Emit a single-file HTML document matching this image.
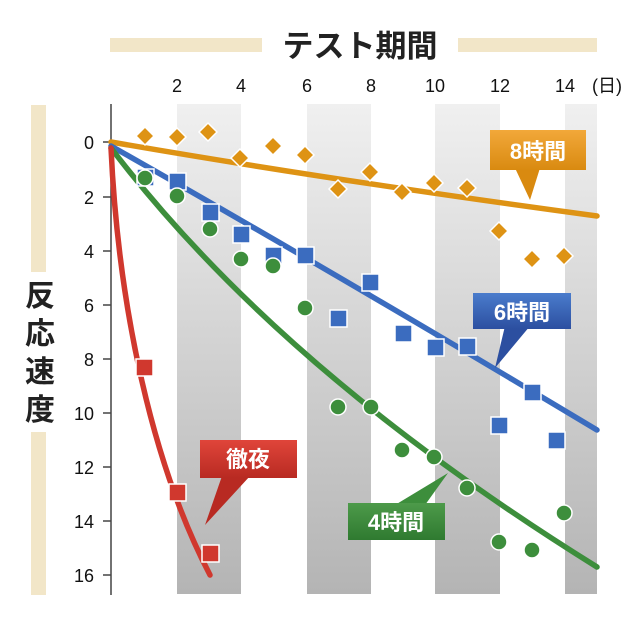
<!DOCTYPE html><html><head><meta charset="utf-8"><style>body{margin:0;background:#fff}svg{display:block}text{font-family:"Liberation Sans","Noto Sans CJK JP",sans-serif}</style></head><body>
<svg width="640" height="625" viewBox="0 0 640 625">
<defs><linearGradient id="g" x1="0" y1="0" x2="0" y2="1"><stop offset="0" stop-color="#f0f0f0"/><stop offset="1" stop-color="#b4b4b4"/></linearGradient>
<linearGradient id="ob" x1="0" y1="0" x2="0" y2="1"><stop offset="0" stop-color="#f2a83a"/><stop offset="1" stop-color="#d98a10"/></linearGradient>
<linearGradient id="bb" x1="0" y1="0" x2="0" y2="1"><stop offset="0" stop-color="#4a7ccc"/><stop offset="1" stop-color="#2c4fa0"/></linearGradient>
<linearGradient id="gb" x1="0" y1="0" x2="0" y2="1"><stop offset="0" stop-color="#4d9a4a"/><stop offset="1" stop-color="#2f7a30"/></linearGradient>
<linearGradient id="rb" x1="0" y1="0" x2="0" y2="1"><stop offset="0" stop-color="#e0453a"/><stop offset="1" stop-color="#b82a22"/></linearGradient></defs>
<rect x="110" y="38" width="487" height="14" fill="#f2e6c8"/>
<rect x="31" y="105" width="15" height="490" fill="#f2e6c8"/>
<rect x="262" y="28" width="196" height="36" fill="#fff"/>
<text x="360" y="57" font-size="31" font-weight="bold" text-anchor="middle" fill="#222">テスト期間</text>
<rect x="18" y="272" width="42" height="160" fill="#fff"/>
<g font-size="30" font-weight="bold" fill="#222" text-anchor="middle"><text x="40" y="306">反</text><text x="40" y="344">応</text><text x="40" y="382">速</text><text x="40" y="420">度</text></g>
<rect x="177" y="104" width="64" height="490" fill="url(#g)"/>
<rect x="307" y="104" width="64" height="490" fill="url(#g)"/>
<rect x="435" y="104" width="65" height="490" fill="url(#g)"/>
<rect x="565" y="104" width="32" height="490" fill="url(#g)"/>
<line x1="111" y1="104" x2="111" y2="595" stroke="#444" stroke-width="1.5"/>
<g stroke="#444" stroke-width="1.5"><line x1="103" y1="142" x2="111" y2="142"/><line x1="103" y1="197" x2="111" y2="197"/><line x1="103" y1="251" x2="111" y2="251"/><line x1="103" y1="305" x2="111" y2="305"/><line x1="103" y1="359" x2="111" y2="359"/><line x1="103" y1="413" x2="111" y2="413"/><line x1="103" y1="467" x2="111" y2="467"/><line x1="103" y1="521" x2="111" y2="521"/><line x1="103" y1="575" x2="111" y2="575"/></g>
<g font-size="18" fill="#111" text-anchor="end"><text x="94" y="149">0</text><text x="94" y="204">2</text><text x="94" y="258">4</text><text x="94" y="312">6</text><text x="94" y="366">8</text><text x="94" y="420">10</text><text x="94" y="474">12</text><text x="94" y="528">14</text><text x="94" y="582">16</text></g>
<g font-size="18" fill="#111" text-anchor="middle"><text x="177" y="92">2</text><text x="241" y="92">4</text><text x="307" y="92">6</text><text x="371" y="92">8</text><text x="435" y="92">10</text><text x="500" y="92">12</text><text x="565" y="92">14</text><text x="607" y="92">(日)</text></g>
<g fill="none" stroke-width="5.5" stroke-linecap="round">
<path d="M111,142 Q330,180 597,216" stroke="#de9314"/>
<path d="M111,146 Q330,270 597,430" stroke="#3b6cbf"/>
<path d="M111,148 Q280,370 597,567" stroke="#3d8e3c"/>
<path d="M111,148 C118,300 150,460 210,575" stroke="#d0382e"/></g>
<g fill="#de9314" stroke="#fff" stroke-width="1.5">
<path id="d" d="M0,-9 L9,0 L0,9 L-9,0Z" transform="translate(145,136)"/>
<path d="M0,-9 L9,0 L0,9 L-9,0Z" transform="translate(177,137)"/><path d="M0,-9 L9,0 L0,9 L-9,0Z" transform="translate(208,132)"/><path d="M0,-9 L9,0 L0,9 L-9,0Z" transform="translate(240,158)"/><path d="M0,-9 L9,0 L0,9 L-9,0Z" transform="translate(273,146)"/><path d="M0,-9 L9,0 L0,9 L-9,0Z" transform="translate(305,155)"/><path d="M0,-9 L9,0 L0,9 L-9,0Z" transform="translate(338,189)"/><path d="M0,-9 L9,0 L0,9 L-9,0Z" transform="translate(370,172)"/><path d="M0,-9 L9,0 L0,9 L-9,0Z" transform="translate(402,192)"/><path d="M0,-9 L9,0 L0,9 L-9,0Z" transform="translate(434,183)"/><path d="M0,-9 L9,0 L0,9 L-9,0Z" transform="translate(467,188)"/><path d="M0,-9 L9,0 L0,9 L-9,0Z" transform="translate(499,231)"/><path d="M0,-9 L9,0 L0,9 L-9,0Z" transform="translate(532,259)"/><path d="M0,-9 L9,0 L0,9 L-9,0Z" transform="translate(564,256)"/></g>
<g fill="#3b6cbf" stroke="#fff" stroke-width="1.5">
<rect x="137" y="169" width="17" height="17"/><rect x="169" y="173" width="17" height="17"/><rect x="202" y="204" width="17" height="17"/><rect x="233" y="226" width="17" height="17"/><rect x="265" y="247" width="17" height="17"/><rect x="297" y="247" width="17" height="17"/><rect x="330" y="310" width="17" height="17"/><rect x="362" y="274" width="17" height="17"/><rect x="395" y="325" width="17" height="17"/><rect x="427" y="339" width="17" height="17"/><rect x="459" y="338" width="17" height="17"/><rect x="491" y="417" width="17" height="17"/><rect x="524" y="384" width="17" height="17"/><rect x="548" y="432" width="17" height="17"/></g>
<g fill="#3d8e3c" stroke="#fff" stroke-width="1.5">
<circle cx="145" cy="178" r="8"/><circle cx="177" cy="196" r="8"/><circle cx="210" cy="229" r="8"/><circle cx="241" cy="259" r="8"/><circle cx="273" cy="266" r="8"/><circle cx="305" cy="308" r="8"/><circle cx="338" cy="407" r="8"/><circle cx="371" cy="407" r="8"/><circle cx="402" cy="450" r="8"/><circle cx="434" cy="457" r="8"/><circle cx="467" cy="488" r="8"/><circle cx="499" cy="542" r="8"/><circle cx="532" cy="550" r="8"/><circle cx="564" cy="513" r="8"/></g>
<g fill="#d0382e" stroke="#fff" stroke-width="1.5"><rect x="136" y="359" width="17" height="17"/><rect x="169" y="484" width="17" height="17"/><rect x="202" y="545" width="17" height="17"/></g>
<g font-size="22" font-weight="bold" fill="#fff" text-anchor="middle">
<path d="M515,168 L530,200 L540,168Z" fill="#d98a10"/><rect x="490" y="130" width="96" height="40" fill="url(#ob)"/><text x="538" y="159">8時間</text>
<path d="M505,326 L495,368 L530,326Z" fill="#2c4fa0"/><rect x="473" y="293" width="98" height="36" fill="url(#bb)"/><text x="522" y="320">6時間</text>
<path d="M395,505 L448,473 L425,505Z" fill="#3d8e3c"/><rect x="348" y="503" width="97" height="37" fill="url(#gb)"/><text x="396" y="530">4時間</text>
<path d="M222,476 L205,525 L250,476Z" fill="#b82a22"/><rect x="200" y="440" width="97" height="38" fill="url(#rb)"/><text x="248" y="467">徹夜</text></g>
</svg></body></html>
